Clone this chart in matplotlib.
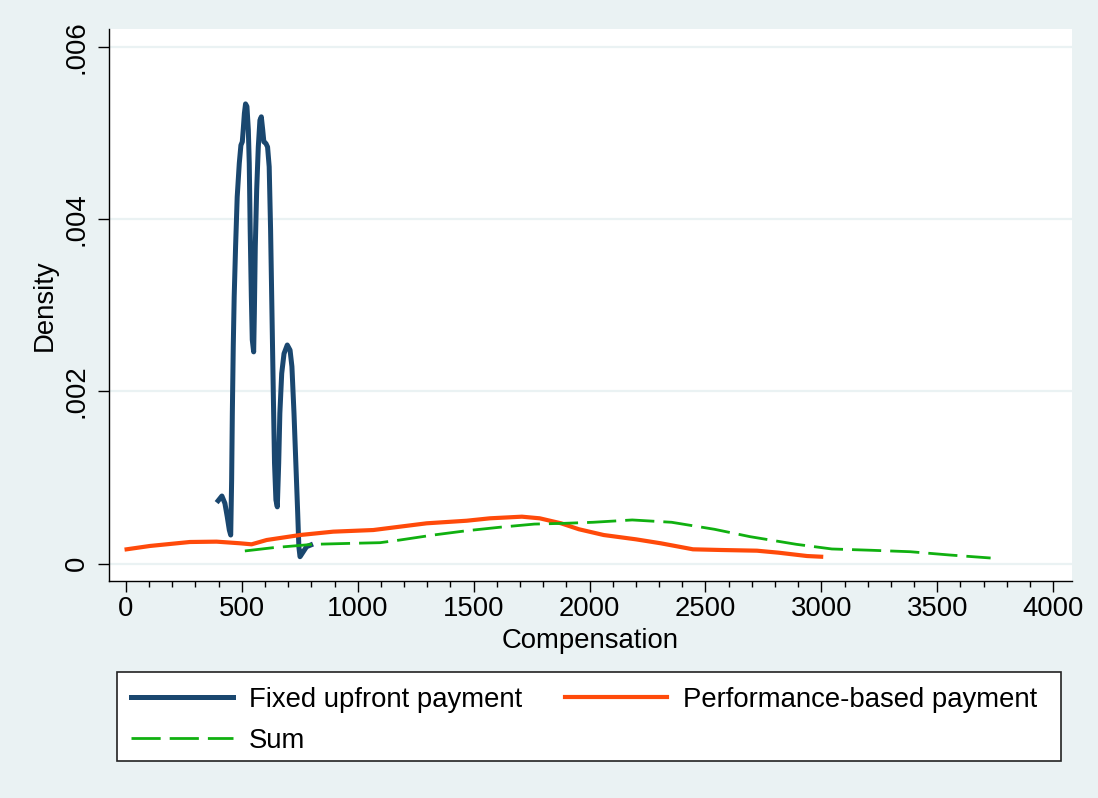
import matplotlib
matplotlib.use("Agg")
import matplotlib.pyplot as plt
from matplotlib.patches import Rectangle
from matplotlib.ticker import MultipleLocator, FixedLocator

# ---------------- data ----------------
fixed_x = [398, 414, 427, 437, 446, 452, 456, 459, 463, 467, 473, 480, 489, 496, 502, 506,
           511, 516, 522, 528, 532, 536, 541, 545, 551, 554, 558, 564, 571, 578, 584, 590,
           595, 604, 611, 618, 624, 630, 636, 641, 647, 653, 659, 664, 672, 682, 696, 708,
           716, 725, 733, 741, 746, 751, 765, 779, 797]
fixed_y = [0.000732, 0.000786, 0.000701, 0.000546, 0.000391, 0.000333, 0.000972, 0.001747,
           0.00252, 0.00310, 0.00368, 0.00426, 0.00465, 0.00486, 0.00490, 0.00504, 0.00523,
           0.00534, 0.00531, 0.00504, 0.00465, 0.00388, 0.00310, 0.00260, 0.00246, 0.00291,
           0.00368, 0.00434, 0.00484, 0.00515, 0.00519, 0.00504, 0.00490, 0.00488, 0.00484,
           0.00461, 0.00388, 0.00291, 0.00194, 0.001166, 0.00074, 0.00066, 0.001166, 0.001747,
           0.00221, 0.00244, 0.00254, 0.00248, 0.00229, 0.001747, 0.001166, 0.000585,
           0.000197, 0.000081, 0.000139, 0.000197, 0.000217]

perf_x = [3, 104, 276, 391, 492, 542, 607, 751, 894, 1067, 1182, 1297, 1470, 1570, 1708,
          1785, 1877, 1954, 2061, 2200, 2307, 2446, 2569, 2722, 2815, 2938, 2999]
perf_y = [0.000167, 0.000206, 0.000252, 0.000256, 0.000237, 0.000225, 0.000275, 0.000333,
          0.000372, 0.000391, 0.000430, 0.000469, 0.000499, 0.000527, 0.000546, 0.000527,
          0.000469, 0.000400, 0.000333, 0.000283, 0.000237, 0.000167, 0.000159, 0.000151,
          0.000128, 0.000089, 0.000081]

sum_x = [513, 635, 808, 981, 1096, 1182, 1326, 1470, 1615, 1762, 1892, 2015, 2184, 2354,
         2538, 2692, 2892, 3045, 3215, 3384, 3553, 3730]
sum_y = [0.000148, 0.000186, 0.000225, 0.000237, 0.000244, 0.000275, 0.000333, 0.000383,
         0.000424, 0.000460, 0.000469, 0.000481, 0.000508, 0.000481, 0.000400, 0.000314,
         0.000225, 0.000171, 0.000156, 0.000139, 0.000101, 0.000066]

labels = ["Fixed upfront payment", "Performance-based payment", "Sum"]
x_ticks = [0, 500, 1000, 1500, 2000, 2500, 3000, 3500, 4000]
y_ticks = [0, 0.002, 0.004, 0.006]
y_tick_labels = ["0", ".002", ".004", ".006"]

# ---------------- style ----------------
W, H = 1098, 798
BG = "#EAF2F3"
C_FIX = "#1A476F"
C_PERF = "#FF4A0A"
C_SUM = "#10B010"
FS = 19.8

plt.rcParams["font.family"] = ["Liberation Sans", "DejaVu Sans"]
plt.rcParams["lines.scale_dashes"] = False

fig = plt.figure(figsize=(W / 100, H / 100), dpi=100, facecolor=BG)
ax = fig.add_axes([109 / W, 1 - 581 / H, (1072 - 109) / W, (581 - 29) / H])
ax.set_facecolor("white")

l1, = ax.plot(fixed_x, fixed_y, color=C_FIX, lw=3.6, solid_joinstyle="round", zorder=3)
l2, = ax.plot(perf_x, perf_y, color=C_PERF, lw=3.0, zorder=3)
l3, = ax.plot(sum_x, sum_y, color=C_SUM, lw=2.0, dashes=(21, 6.5), zorder=3)

ax.set_xlim(-73, 4081)
ax.set_ylim(-0.000201, 0.00621)

ax.xaxis.set_major_locator(FixedLocator(x_ticks))
ax.xaxis.set_minor_locator(MultipleLocator(100))
ax.set_yticks(y_ticks)
ax.set_yticklabels(y_tick_labels, rotation=90, va="center")
ax.set_xticklabels([str(v) for v in x_ticks])

for s in ["top", "right"]:
    ax.spines[s].set_visible(False)
for s in ["left", "bottom"]:
    ax.spines[s].set_linewidth(1.0)
    ax.spines[s].set_color("black")

ax.tick_params(axis="both", which="major", length=8, width=1.0, labelsize=FS, color="black")
ax.tick_params(axis="x", which="minor", length=4, width=1.0, color="black")
ax.tick_params(axis="x", which="major", pad=3)
ax.tick_params(axis="y", which="major", pad=6)

ax.grid(axis="y", color=BG, lw=1.6, zorder=0)
ax.set_axisbelow(True)

ax.set_xlabel("Compensation", fontsize=FS, labelpad=4)
ax.set_ylabel("Density", fontsize=FS, labelpad=4)

# legend box
fig.patches.append(Rectangle((117 / W, 1 - 761 / H), (1061 - 117) / W, (761 - 672) / H,
                             transform=fig.transFigure, facecolor="white",
                             edgecolor="#222222", lw=1.2, zorder=1))
leg = fig.legend([l1, l3, l2], [labels[0], labels[2], labels[1]], ncol=2,
                 loc="upper left", bbox_to_anchor=(131 / W, 1 - 687 / H),
                 bbox_transform=fig.transFigure, frameon=False, fontsize=FS,
                 handlelength=3.71, handletextpad=0.58, columnspacing=1.56,
                 labelspacing=0.54, borderpad=0, borderaxespad=0)

fig.savefig("out.png", dpi=100, facecolor=BG)
